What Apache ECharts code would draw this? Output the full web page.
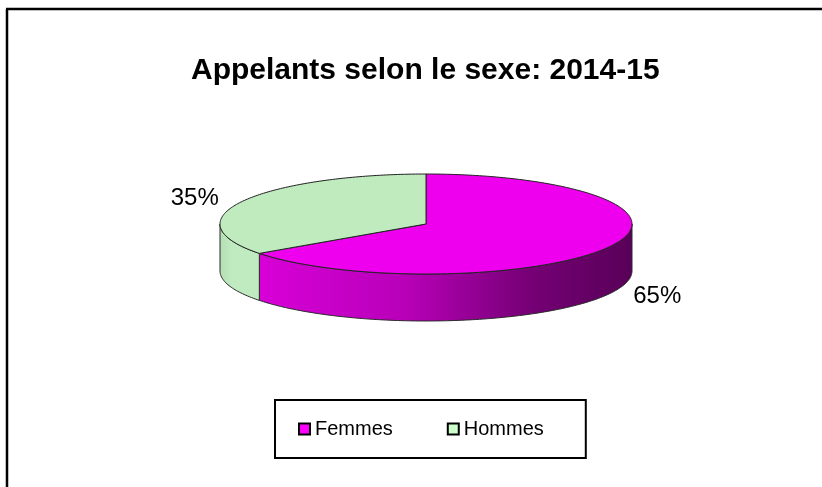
<!DOCTYPE html>
<html>
<head>
<meta charset="utf-8">
<script src="https://cdn.jsdelivr.net/npm/echarts@6/dist/echarts.min.js"></script>
<style>
  html, body { margin: 0; padding: 0; background: #fff; }
  #chart { width: 822px; height: 487px; }
</style>
</head>
<body>
<div id="chart"></div>
<script>
// ---- data ----
const categories = ['Femmes', 'Hommes'];
const shares = [65, 35];
const titleText = 'Appelants selon le sexe: 2014-15';

// ---- styles ----
const topColors = ['#EE00EE', '#BFEBBF'];
const legendColors = ['#FF00FF', '#CCFFCC'];
const sideFills = [
  new echarts.graphic.LinearGradient(220, 0, 632, 0, [
    { offset: 0, color: '#E000E0' },
    { offset: 0.45, color: '#B800B8' },
    { offset: 0.75, color: '#760076' },
    { offset: 1, color: '#580058' }
  ], true),
  new echarts.graphic.LinearGradient(220, 0, 262, 0, [
    { offset: 0, color: '#B4DDB4' },
    { offset: 0.3, color: '#C0EBC0' },
    { offset: 1, color: '#C0EBC0' }
  ], true)
];

// ---- geometry of the 3D pie ----
const cx = 426, cy = 224, rx = 206, ry = 50, depth = 47;
const total = shares.reduce((a, b) => a + b, 0);
const starts = [];
shares.reduce((acc, v, i) => { starts[i] = acc; return acc + v; }, 0);

function pt(t, dy) {
  return [cx + rx * Math.sin(t), cy - ry * Math.cos(t) + (dy || 0)];
}
function arc(t1, t2, dy) {
  const pts = [];
  const n = Math.max(2, Math.ceil(Math.abs(t2 - t1) / (Math.PI / 180)));
  for (let k = 0; k <= n; k++) pts.push(pt(t1 + (t2 - t1) * k / n, dy));
  return pts;
}

function makeRender(idx) {
  return function (params, api) {
    const start = api.value(0), val = api.value(1);
    const t1 = start / total * 2 * Math.PI;
    const t2 = (start + val) / total * 2 * Math.PI;
    const children = [];
    // visible outer wall (front half: t in [90deg, 270deg])
    const f1 = Math.max(t1, Math.PI / 2), f2 = Math.min(t2, 3 * Math.PI / 2);
    if (f2 > f1) {
      const pts = arc(f1, f2, 0).concat(arc(f2, f1, depth));
      children.push({
        type: 'polygon',
        shape: { points: pts },
        style: { fill: sideFills[idx], stroke: '#2a2a2a', lineWidth: 1 }
      });
    }
    // top face
    const topPts = [[cx, cy]].concat(arc(t1, t2, 0));
    children.push({
      type: 'polygon',
      shape: { points: topPts },
      style: { fill: topColors[idx], stroke: '#222', lineWidth: 1 }
    });
    // percentage label
    const tm = (t1 + t2) / 2;
    const lx = cx + 1.26 * rx * Math.sin(tm);
    const ly = cy - 1.12 * ry * Math.cos(tm) + (Math.cos(tm) < 0 ? depth : 0);
    children.push({
      type: 'text',
      style: {
        text: Math.round(val / total * 100) + '%',
        x: lx, y: ly, align: 'center', verticalAlign: 'middle',
        font: '24px "Liberation Sans", Arial, sans-serif', fill: '#000'
      }
    });
    return { type: 'group', children: children };
  };
}

const chart = echarts.init(document.getElementById('chart'), null, { renderer: 'canvas' });
const series = categories.map((name, i) => ({
  type: 'custom',
  name: name,
  coordinateSystem: 'none',
  renderItem: makeRender(i),
  itemStyle: { color: legendColors[i] },
  data: [[starts[i], shares[i]]],
  silent: true,
  animation: false
}));

chart.setOption({
  backgroundColor: '#fff',
  animation: false,
  title: {
    text: titleText,
    left: 191,
    top: 56,
    padding: 0,
    textStyle: { fontFamily: '"Liberation Sans", Arial, sans-serif', fontWeight: 'bold', fontSize: 30, color: '#000' }
  },
  legend: {
    data: categories,
    left: 275,
    top: 400,
    orient: 'horizontal',
    icon: 'rect',
    itemWidth: 11,
    itemHeight: 11,
    itemGap: 54,
    padding: [19, 42, 19, 23],
    borderColor: '#000',
    borderWidth: 2,
    backgroundColor: '#fff',
    itemStyle: { borderColor: '#000', borderWidth: 2 },
    textStyle: { fontFamily: '"Liberation Sans", Arial, sans-serif', fontSize: 20, color: '#000', padding: [0, 0, 0, 0] }
  },
  graphic: [
    { type: 'line', shape: { x1: 6, y1: 9, x2: 822, y2: 9 }, style: { stroke: '#000', lineWidth: 2.5 } },
    { type: 'line', shape: { x1: 7, y1: 9, x2: 7, y2: 487 }, style: { stroke: '#000', lineWidth: 2.5 } }
  ],
  series: series
});
</script>
</body>
</html>
